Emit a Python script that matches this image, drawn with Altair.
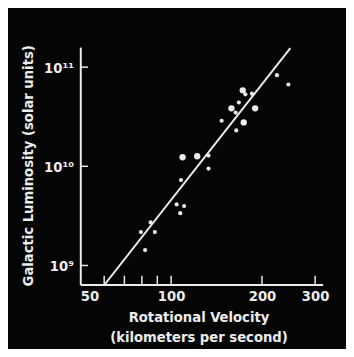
import altair as alt
import pandas as pd

# Rotational velocity (km/s) and galactic luminosity (solar units)
velocity = [79.4, 85.5, 88.3, 82.0, 104.3, 110.4, 107.2, 107.8, 109.1, 122.0,
            133.0, 133.0, 147.0, 164.4, 158.4, 167.6, 172.7, 176.2, 185.2, 189.8,
            174.0, 224.2, 244.6, 163.6]
luminosity = [2.17e9, 2.72e9, 2.17e9, 1.43e9, 4.13e9, 3.97e9, 3.37e9, 7.28e9, 1.235e10, 1.263e10,
              1.283e10, 9.49e9, 2.88e10, 2.30e10, 3.84e10, 4.40e10, 5.83e10, 5.32e10, 5.40e10, 3.84e10,
              2.77e10, 8.30e10, 6.68e10, 3.48e10]
big = [0, 0, 0, 0, 0, 0, 0, 0, 1, 1,
       0, 0, 0, 0, 1, 0, 1, 0, 0, 1,
       1, 0, 0, 0]

fit_velocity = [60.2, 248.3]
fit_luminosity = [6.43e8, 1.556e11]

x_ticks = [50, 100, 200, 300]
x_minor = [60, 70, 80, 90, 100, 200, 300]
y_ticks = [1e9, 1e10, 1e11]

x_domain = [50, 317.5]
y_domain = [6.43e8, 1.592e11]

FONT = "DejaVu Sans Condensed"
WHITE = "#ececec"

pts = pd.DataFrame({"v": velocity, "L": luminosity, "s": [42 if b else 18 for b in big]})
fit = pd.DataFrame({"v": fit_velocity, "L": fit_luminosity})
xt = pd.DataFrame({"v": x_minor})
yt = pd.DataFrame({"L": y_ticks})

xscale = alt.Scale(type="log", domain=x_domain, nice=False, zero=False)
yscale = alt.Scale(type="log", domain=y_domain, nice=False, zero=False)

xaxis = alt.Axis(values=x_ticks, format="d", title=["Rotational Velocity", "(kilometers per second)"],
                 titleX=121, titleY=26, titleBaseline="top", titleLineHeight=20,
                 labelPadding=4, labelFontSize=15)
yaxis = alt.Axis(values=y_ticks,
                 labelExpr="datum.value >= 1e11 ? '10¹¹' : (datum.value >= 1e10 ? '10¹⁰' : '10⁹')",
                 title="Galactic Luminosity (solar units)",
                 titleX=-54, titleY=121, titleBaseline="middle", titleAngle=270,
                 labelPadding=7, labelFontSize=15)

points = alt.Chart(pts).mark_circle(color=WHITE, opacity=1).encode(
    x=alt.X("v:Q", scale=xscale, axis=xaxis),
    y=alt.Y("L:Q", scale=yscale, axis=yaxis),
    size=alt.Size("s:Q", scale=None, legend=None),
)

line = alt.Chart(fit).mark_line(color=WHITE, strokeWidth=2, clip=True).encode(
    x=alt.X("v:Q", scale=xscale),
    y=alt.Y("L:Q", scale=yscale),
)

xtick = alt.Chart(xt).mark_rule(color=WHITE, strokeWidth=1.5).encode(
    x=alt.X("v:Q", scale=xscale),
    y=alt.value(234),
    y2=alt.value(243),
)

ytick = alt.Chart(yt).mark_rule(color=WHITE, strokeWidth=1.5).encode(
    y=alt.Y("L:Q", scale=yscale),
    x=alt.value(0),
    x2=alt.value(8),
)

chart = alt.layer(xtick, ytick, line, points).properties(
    width=248,
    height=243,
    autosize=alt.AutoSizeParams(type="none"),
    padding={"left": 74, "top": 36, "right": 24, "bottom": 62},
    background="#050505",
).configure_view(stroke=None).configure_axis(
    grid=False,
    ticks=False,
    domainColor=WHITE,
    domainWidth=2,
    labelColor=WHITE,
    titleColor=WHITE,
    labelFont=FONT,
    titleFont=FONT,
    labelFontWeight="bold",
    titleFontWeight="bold",
    titleFontSize=15,
)

chart.save("out.html", embed_options={"renderer": "svg", "actions": False})
